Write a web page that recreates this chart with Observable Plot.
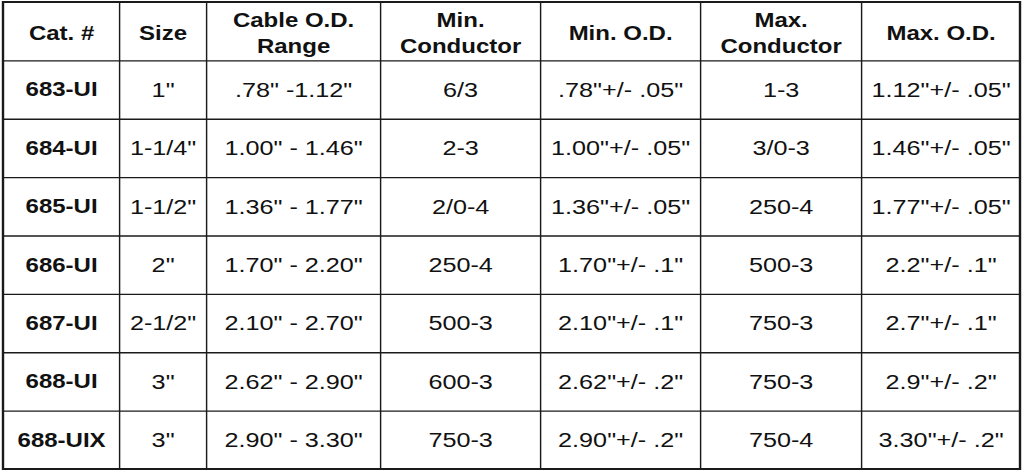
<!DOCTYPE html>
<html>
<head>
<meta charset="utf-8">
<script src="https://cdn.jsdelivr.net/npm/d3@7"></script>
<script src="https://cdn.jsdelivr.net/npm/@observablehq/plot@0.6"></script>
<style>
  html, body { margin: 0; padding: 0; background: #fff; }
  #chart { width: 1024px; height: 472px; overflow: hidden; }
</style>
</head>
<body>
<div id="chart"></div>
<script>
// ---- data ----
const headers = ["Cat. #", "Size", "Cable O.D.\nRange", "Min.\nConductor", "Min. O.D.", "Max.\nConductor", "Max. O.D."];
const catNums = ["683-UI", "684-UI", "685-UI", "686-UI", "687-UI", "688-UI", "688-UIX"];
const sizes = ["1\"", "1-1/4\"", "1-1/2\"", "2\"", "2-1/2\"", "3\"", "3\""];
const cableRange = [".78\" -1.12\"", "1.00\" - 1.46\"", "1.36\" - 1.77\"", "1.70\" - 2.20\"", "2.10\" - 2.70\"", "2.62\" - 2.90\"", "2.90\" - 3.30\""];
const minConductor = ["6/3", "2-3", "2/0-4", "250-4", "500-3", "600-3", "750-3"];
const minOD = [".78\"+/- .05\"", "1.00\"+/- .05\"", "1.36\"+/- .05\"", "1.70\"+/- .1\"", "2.10\"+/- .1\"", "2.62\"+/- .2\"", "2.90\"+/- .2\""];
const maxConductor = ["1-3", "3/0-3", "250-4", "500-3", "750-3", "750-3", "750-4"];
const maxOD = ["1.12\"+/- .05\"", "1.46\"+/- .05\"", "1.77\"+/- .05\"", "2.2\"+/- .1\"", "2.7\"+/- .1\"", "2.9\"+/- .2\"", "3.30\"+/- .2\""];

// ---- layout (column edges in page px) ----
const colEdges = [3, 119, 206, 380, 540, 700, 861, 1020];
const stretch = 1.2; // the reference's text is horizontally stretched

const columns = [catNums, sizes, cableRange, minConductor, minOD, maxConductor, maxOD];
const nRows = catNums.length + 1;
const mid = (c) => (colEdges[c] + colEdges[c + 1]) / 2;

const headerCells = headers.map((t, c) => ({x: mid(c), y: 0.5, text: t}));
const bodyCells = [];
columns.forEach((col, c) => col.forEach((t, r) => bodyCells.push({x: mid(c), y: r + 1.5, text: t, bold: c === 0})));

const rowLines = d3.range(1, nRows);
const colLines = colEdges.slice(1, -1);

const W = 1024 / stretch;
const font = "'Liberation Sans', Arial, Helvetica, sans-serif";

const plot = Plot.plot({
  width: W,
  height: 472,
  margin: 0,
  style: {fontFamily: font, background: "#fff", color: "#111"},
  x: {type: "linear", domain: [0, 1024], range: [0, W], axis: null},
  y: {type: "linear", domain: [0, nRows], range: [2, 469], axis: null},
  marks: [
    Plot.ruleY(rowLines, {y: d => d, x1: colEdges[0], x2: colEdges[colEdges.length - 1], stroke: "#1a1a1a", strokeWidth: 1.4}),
    Plot.ruleX(colLines, {x: d => d, y1: 0, y2: nRows, stroke: "#1a1a1a", strokeWidth: 1.2}),
    Plot.rect([0], {x1: colEdges[0], x2: colEdges[colEdges.length - 1], y1: 0, y2: nRows, fill: "none", stroke: "#1a1a1a", strokeWidth: 2}),
    Plot.text(headerCells, {x: "x", y: "y", text: "text", fontSize: 20, fontWeight: "bold", lineHeight: 1.3, fill: "#111"}),
    Plot.text(bodyCells.filter(d => d.bold), {x: "x", y: "y", text: "text", fontSize: 20, fontWeight: "bold", fill: "#111"}),
    Plot.text(bodyCells.filter(d => !d.bold), {x: "x", y: "y", text: "text", fontSize: 21, fill: "#111"})
  ]
});

plot.setAttribute("preserveAspectRatio", "none");
plot.style.width = "1024px";
plot.style.height = "472px";
plot.style.maxWidth = "none";
document.getElementById("chart").appendChild(plot);
</script>
</body>
</html>
